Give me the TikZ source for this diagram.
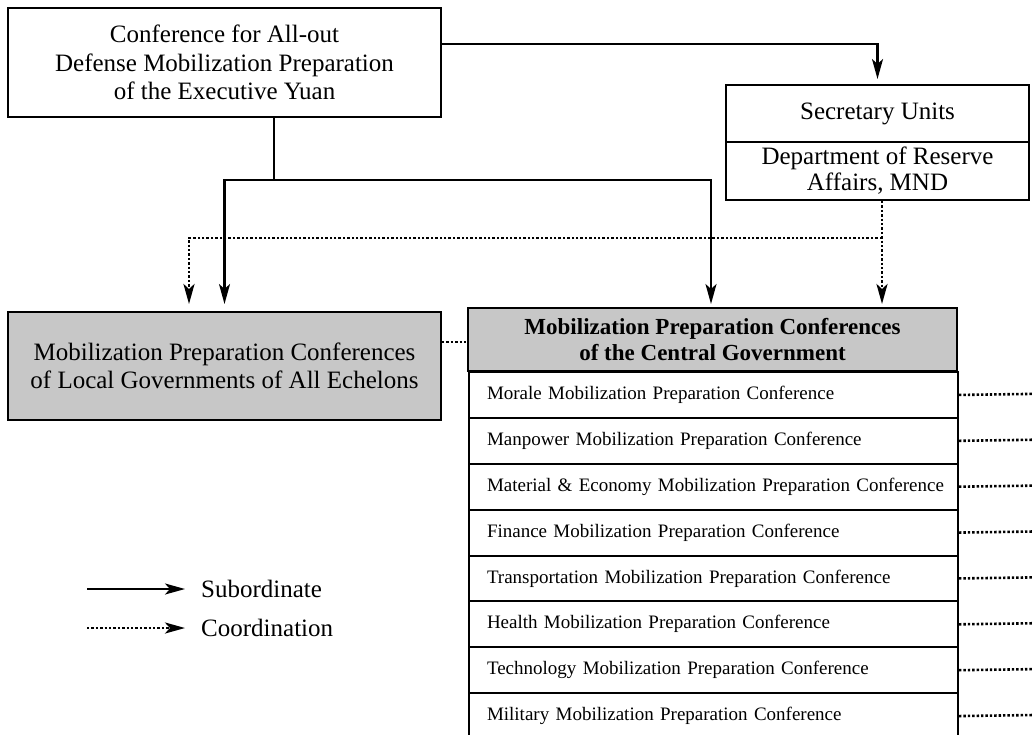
\documentclass[tikz,border=0pt]{standalone}
\usepackage{fontspec}
\setmainfont{Liberation Serif}
\usetikzlibrary{arrows.meta,calc}
\begin{document}
\begin{tikzpicture}[x=1pt,y=-1pt,
  box/.style={draw=black,line width=2pt,rectangle,inner sep=0pt,align=center,
    font=\fontsize{25}{28.5}\selectfont},
  shaded/.style={box,fill=black!22},
  rowbox/.style={draw=black,line width=2pt,rectangle,inner xsep=18pt,inner ysep=0pt,
    minimum width=489pt,minimum height=45.875pt,text width=453pt,align=left,
    anchor=north west,font=\fontsize{19}{22}\selectfont},
  sub/.style={line width=2.2pt,-{Stealth[length=20pt,width=11pt,inset=5pt]}},
  subline/.style={line width=2.2pt},
  coordarrow/.style={line width=2.6pt,dash pattern=on 2.4pt off 2pt,-{Stealth[length=20pt,width=11pt,inset=5pt]}},
  coordline/.style={line width=2.6pt,dash pattern=on 2.4pt off 2pt},
  legtext/.style={anchor=west,inner sep=0pt,font=\fontsize{25}{28}\selectfont}
]
\useasboundingbox (0,0) rectangle (1032,734);
\fill[white] (0,0) rectangle (1032,734);
\begin{scope}
\clip (0,0) rectangle (1032,734);
% nodes
\node[box,minimum width=433pt,minimum height=109pt] (top) at (224.5,62.5)
  {Conference for All-out\\Defense Mobilization Preparation\\of the Executive Yuan};
\node[box,minimum width=303pt,minimum height=57pt] (secA) at (877.5,113.5)
  {Secretary Units};
\node[box,minimum width=303pt,minimum height=58pt,font=\fontsize{25}{26}\selectfont] (secB) at (877.5,171)
  {Department of Reserve\\Affairs, MND};
\node[shaded,minimum width=433pt,minimum height=108pt] (local) at (224.5,366)
  {Mobilization Preparation Conferences\\of Local Governments of All Echelons};
\node[shaded,minimum width=489pt,minimum height=63pt,font=\fontsize{23}{26.5}\selectfont\bfseries] (header) at (712.5,339.5)
  {Mobilization Preparation Conferences\\of the Central Government};
\foreach \i/\t in {1/Morale Mobilization Preparation Conference,
                   2/Manpower Mobilization Preparation Conference,
                   3/Material \& Economy Mobilization Preparation Conference,
                   4/Finance Mobilization Preparation Conference,
                   5/Transportation Mobilization Preparation Conference,
                   6/Health Mobilization Preparation Conference,
                   7/Technology Mobilization Preparation Conference,
                   8/Military Mobilization Preparation Conference}{
  \node[rowbox] (row\i) at (468,{371+45.875*(\i-1)}) {\mbox{\t}};
  \coordinate (rowend\i) at (1032,{371+45.875*(\i-1)+22.9});
  \draw[coordline] (row\i.east) -- (rowend\i);
}
% subordinate connectors
\draw[sub,shorten >=5pt] ([yshift=18.5pt]top.east) -| (secA.north);
\coordinate (junc) at (274,180);
\draw[subline] ([xshift=49.5pt]top.south) -- (junc);
\draw[sub,shorten >=7pt] (junc) -| (local.north);
\draw[sub,shorten >=3pt] (junc) -| ([xshift=-1.5pt]header.north);
% coordination connectors
\draw[coordarrow,shorten >=3pt] ([xshift=4.5pt]secB.south) -- ([xshift=4.5pt]secB.south |- header.north);
\draw[coordarrow,shorten >=7pt] ([xshift=4.5pt]secB.south |- 0,238) -| ([xshift=-35.5pt]local.north);
\draw[coordline] ([yshift=24pt]local.east) -- ([yshift=24pt]local.east -| header.west);
% legend
\coordinate (l1a) at (87,589);
\coordinate (l1b) at (185,589);
\coordinate (l2a) at (87,628);
\coordinate (l2b) at (185,628);
\draw[sub] (l1a) -- (l1b);
\draw[coordarrow] (l2a) -- (l2b);
\node[legtext] (legsub) at (201,589) {Subordinate};
\node[legtext] (legcoord) at (201,628) {Coordination};
\end{scope}
\end{tikzpicture}
\end{document}
